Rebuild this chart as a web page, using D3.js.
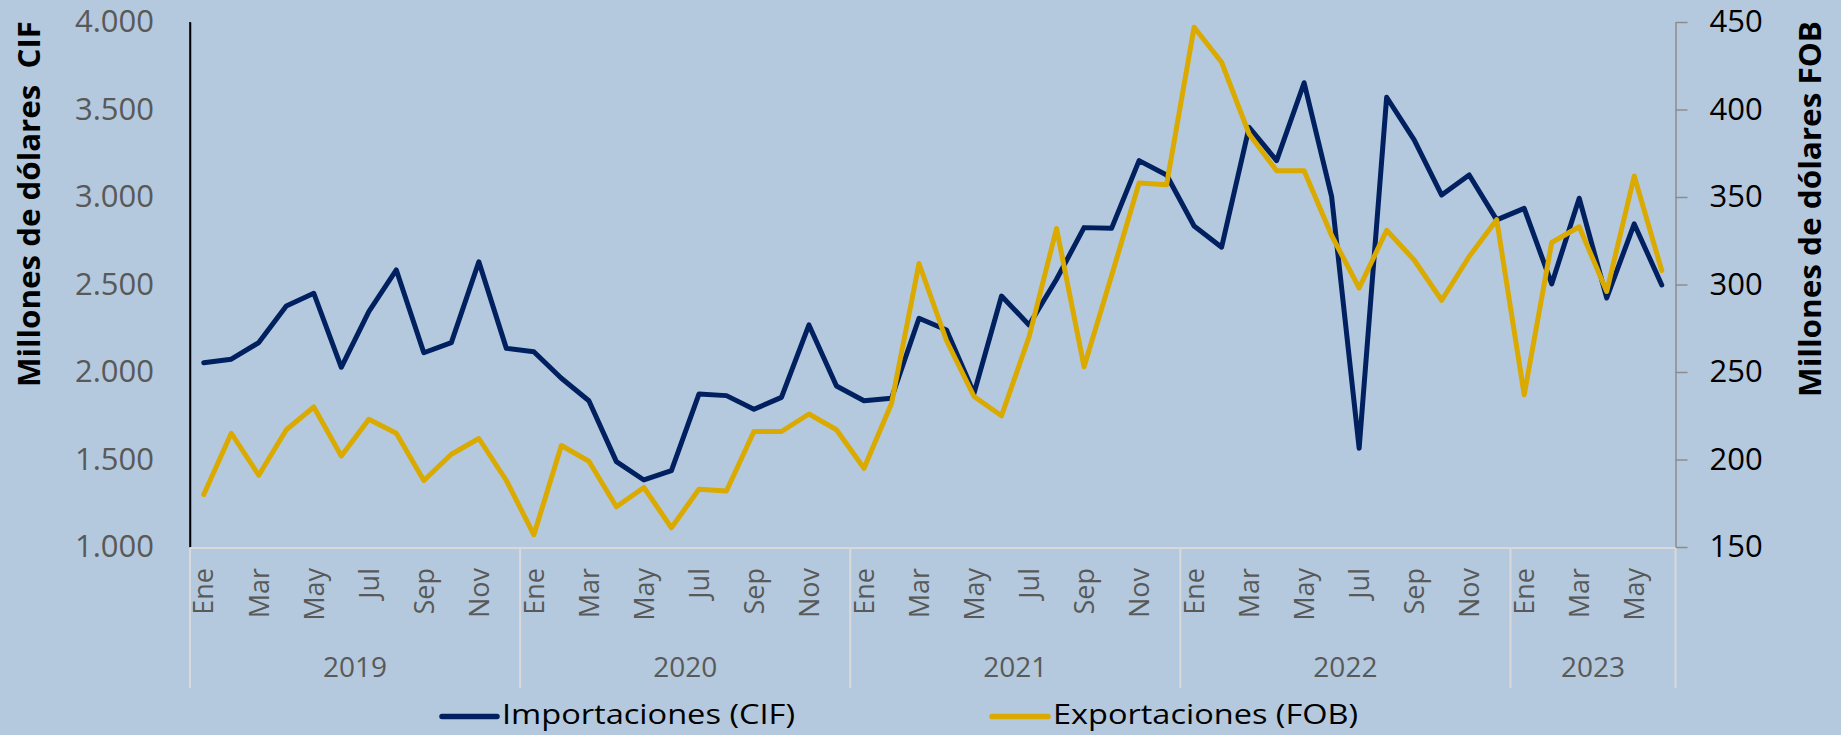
<!DOCTYPE html>
<html>
<head>
<meta charset="utf-8">
<script src="https://cdn.jsdelivr.net/npm/d3@7"></script>
<style>
  html, body { margin: 0; padding: 0; background: #b4c9dd; }
  svg { display: block; font-family: "Open Sans", "Noto Sans", sans-serif; }
</style>
</head>
<body>
<svg id="chart" width="1841" height="735"></svg>
<script>
// month labels (only every other one is shown)
let months = ["Ene","Feb","Mar","Abr","May","Jun","Jul","Ago","Sep","Oct","Nov","Dic"];
let years = ["2019","2020","2021","2022","2023"];
let year_months = [12, 12, 12, 12, 6];

// Importaciones CIF (millones de dolares, eje izquierdo)
let imports = [2053,2073,2168,2377,2450,2027,2345,2583,2110,2168,2630,2135,
	2116,1964,1836,1488,1383,1436,1874,1865,1787,1855,2269,1920,
	1836,1850,2307,2240,1878,2434,2269,2530,2825,2821,3208,3126,
	2834,2713,3398,3208,3653,3002,1564,3570,3326,3011,3126,2869,
	2935,2503,2993,2423,2846,2497];

// Exportaciones FOB (millones de dolares, eje derecho)
let exports = [180,215,191,217,230,202,223,215,188,203,212,188,
	157,208,199,173,184,161,183,182,216,216,226,217,
	195,232,312,268,236,225,270,332,253,305,358,357,
	447,427,386,365,365,328,298,331,314,291,316,337,
	237,324,333,296,362,308];

let left_ticks = [1000,1500,2000,2500,3000,3500,4000];
let right_ticks = [150,200,250,300,350,400,450];

let navy = "#002060", gold = "#daaa00";

// build category list
let cats = [];
years.forEach((y, yi) => {
	for (let m = 0; m < year_months[yi]; m++) {
		cats.push({year: y, month: months[m], m: m, idx: cats.length});
	}
});

let svg = d3.select("#chart");

let x = d3.scaleBand()
	.domain(cats.map(d => d.idx))
	.range([190, 1675.5])
	.padding(0);
let yL = d3.scaleLinear().domain([1000, 4000]).range([547, 22]);
let yR = d3.scaleLinear().domain([150, 450]).range([547, 22]);

let cx = i => x(i) + x.bandwidth() / 2;

let es = d3.formatLocale({decimal: ",", thousands: ".", grouping: [3], currency: ["$", ""]});

// left axis
let gL = svg.append("g")
	.attr("transform", "translate(190,0)")
	.call(d3.axisLeft(yL).tickValues(left_ticks).tickSize(0).tickPadding(36).tickFormat(es.format(",")));
gL.select(".domain").attr("stroke", "#000").attr("stroke-width", 1.5);
gL.selectAll("text")
	.attr("fill", "#595959")
	.style("font-size", "31px")
	.style("font-family", "'Open Sans', sans-serif");

// right axis
let gR = svg.append("g")
	.attr("transform", "translate(1675.5,0)")
	.call(d3.axisRight(yR).tickValues(right_ticks).tickSize(12).tickSizeOuter(0).tickPadding(22));
gR.select(".domain").attr("stroke", "#8c8c8c").attr("stroke-width", 1.5);
gR.selectAll(".tick line").attr("stroke", "#8c8c8c").attr("stroke-width", 1.5);
gR.selectAll("text")
	.attr("fill", "#000")
	.style("font-size", "31px")
	.style("font-family", "'Open Sans', sans-serif");

// category axis: baseline + year separators
svg.append("line")
	.attr("x1", 190).attr("x2", 1675.5)
	.attr("y1", 548).attr("y2", 548)
	.attr("stroke", "#d9d9d9").attr("stroke-width", 2);

let seps = [0];
let acc = 0;
year_months.forEach(n => { acc += n; seps.push(acc); });
svg.selectAll(".sep")
	.data(seps)
	.enter().append("line")
	.attr("class", "sep")
	.attr("x1", d => d < cats.length ? x(d) : x.range()[1])
	.attr("x2", d => d < cats.length ? x(d) : x.range()[1])
	.attr("y1", 548).attr("y2", 688)
	.attr("stroke", "#d9d9d9").attr("stroke-width", 2);

// redraw black left axis on top of separator start
svg.append("line")
	.attr("x1", 190).attr("x2", 190)
	.attr("y1", 22).attr("y2", 547)
	.attr("stroke", "#000").attr("stroke-width", 1.5);

// month labels
svg.selectAll(".mlab")
	.data(cats.filter(d => d.m % 2 == 0))
	.enter().append("text")
	.attr("class", "mlab")
	.attr("transform", d => `translate(${cx(d.idx)},568) rotate(-90)`)
	.attr("text-anchor", "end")
	.attr("dy", "0.36em")
	.attr("fill", "#595959")
	.style("font-size", "27px")
	.text(d => d.month);

// year labels
svg.selectAll(".ylab")
	.data(years)
	.enter().append("text")
	.attr("class", "ylab")
	.attr("x", (d, i) => {
		let a = seps[i] < cats.length ? x(seps[i]) : x.range()[1];
		let b = seps[i + 1] < cats.length ? x(seps[i + 1]) : x.range()[1];
		return (a + b) / 2;
	})
	.attr("y", 677)
	.attr("text-anchor", "middle")
	.attr("fill", "#595959")
	.style("font-size", "28px")
	.text(d => d);

// lines
let lineL = d3.line().x((d, i) => cx(i)).y(d => yL(d));
let lineR = d3.line().x((d, i) => cx(i)).y(d => yR(d));

svg.append("path")
	.datum(imports)
	.attr("d", lineL)
	.attr("fill", "none")
	.attr("stroke", navy)
	.attr("stroke-width", 5)
	.attr("stroke-linejoin", "round")
	.attr("stroke-linecap", "round");

svg.append("path")
	.datum(exports)
	.attr("d", lineR)
	.attr("fill", "none")
	.attr("stroke", gold)
	.attr("stroke-width", 5)
	.attr("stroke-linejoin", "round")
	.attr("stroke-linecap", "round");

// axis titles
svg.append("text")
	.attr("transform", "translate(40,204) rotate(-90)")
	.attr("text-anchor", "middle")
	.attr("font-weight", "bold")
	.attr("fill", "#000")
	.style("font-size", "31px")
	.style("white-space", "pre")
	.attr("textLength", 366)
	.attr("lengthAdjust", "spacingAndGlyphs")
	.text("Millones de dólares  CIF");

svg.append("text")
	.attr("transform", "translate(1821,209) rotate(-90)")
	.attr("text-anchor", "middle")
	.attr("font-weight", "bold")
	.attr("fill", "#000")
	.style("font-size", "31px")
	.attr("textLength", 376)
	.attr("lengthAdjust", "spacingAndGlyphs")
	.text("Millones de dólares FOB");

// legend
let legend = [
	{name: "Importaciones (CIF)", color: navy, x0: 442, x1: 497, tx: 502, tw: 293},
	{name: "Exportaciones (FOB)", color: gold, x0: 992, x1: 1048, tx: 1053, tw: 305}
];
legend.forEach(d => {
	svg.append("line")
		.attr("x1", d.x0).attr("x2", d.x1)
		.attr("y1", 716.5).attr("y2", 716.5)
		.attr("stroke", d.color)
		.attr("stroke-width", 5.5)
		.attr("stroke-linecap", "round");
	svg.append("text")
		.attr("x", d.tx)
		.attr("y", 723.5)
		.attr("fill", "#000")
		.style("font-size", "28px")
		.attr("textLength", d.tw)
		.attr("lengthAdjust", "spacingAndGlyphs")
		.text(d.name);
});
</script>
</body>
</html>
